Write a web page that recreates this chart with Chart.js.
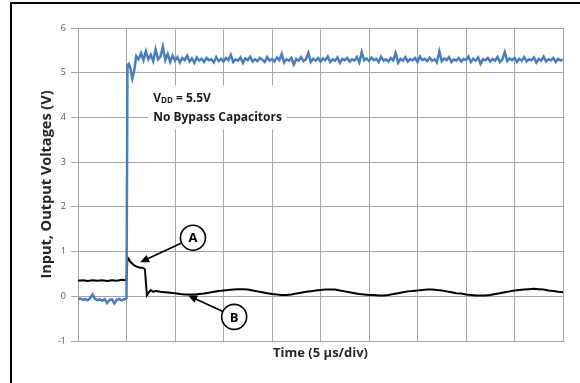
<!DOCTYPE html>
<html>
<head>
<meta charset="utf-8">
<script src="https://cdn.jsdelivr.net/npm/chart.js@4.4.1/dist/chart.umd.min.js"></script>
<style>
  html, body { margin: 0; padding: 0; background: #fff; }
  #wrap { width: 580px; height: 383px; }
</style>
</head>
<body>
<div id="wrap"><canvas id="scopeChart" width="580" height="383"></canvas></div>
<script>
// time axis in divisions (5 us/div)
const inputTime = [
    0, 0.05, 0.1, 0.15, 0.2, 0.25, 0.3, 0.35, 0.4, 0.45, 0.5, 0.55, 0.6, 0.65, 0.7, 0.75, 0.8, 0.85, 0.9, 0.95,
    0.98, 1.0, 1.02, 1.05, 1.08, 1.12, 1.16, 1.2,
    1.25, 1.3, 1.35, 1.4, 1.45, 1.5, 1.55, 1.6, 1.65, 1.7, 1.75, 1.8, 1.85, 1.9, 1.95,
    2.0, 2.05, 2.1, 2.15, 2.2, 2.25, 2.3, 2.35, 2.4, 2.45, 2.5, 2.55, 2.6, 2.65, 2.7, 2.75, 2.8, 2.85, 2.9, 2.95,
    3.0, 3.05, 3.1, 3.15, 3.2, 3.25, 3.3, 3.35, 3.4, 3.45, 3.5, 3.55, 3.6, 3.65, 3.7, 3.75, 3.8, 3.85, 3.9, 3.95,
    4.0, 4.05, 4.1, 4.15, 4.2, 4.25, 4.3, 4.35, 4.4, 4.45, 4.5, 4.55, 4.6, 4.65, 4.7, 4.75, 4.8, 4.85, 4.9, 4.95,
    5.0, 5.05, 5.1, 5.15, 5.2, 5.25, 5.3, 5.35, 5.4, 5.45, 5.5, 5.55, 5.6, 5.65, 5.7, 5.75, 5.8, 5.85, 5.9, 5.95,
    6.0, 6.05, 6.1, 6.15, 6.2, 6.25, 6.3, 6.35, 6.4, 6.45, 6.5, 6.55, 6.6, 6.65, 6.7, 6.75, 6.8, 6.85, 6.9, 6.95,
    7.0, 7.05, 7.1, 7.15, 7.2, 7.25, 7.3, 7.35, 7.4, 7.45, 7.5, 7.55, 7.6, 7.65, 7.7, 7.75, 7.8, 7.85, 7.9, 7.95,
    8.0, 8.05, 8.1, 8.15, 8.2, 8.25, 8.3, 8.35, 8.4, 8.45, 8.5, 8.55, 8.6, 8.65, 8.7, 8.75, 8.8, 8.85, 8.9, 8.95,
    9.0, 9.05, 9.1, 9.15, 9.2, 9.25, 9.3, 9.35, 9.4, 9.45, 9.5, 9.55, 9.6, 9.65, 9.7, 9.75, 9.8, 9.85, 9.9, 9.95,
    10.0
];

// input voltage (V)
const inputV = [
    -0.07, -0.05, -0.08, -0.06, -0.09, -0.04, 0.04, -0.06, -0.08, -0.07, -0.1, -0.06, -0.15, -0.08, -0.07, -0.16, -0.08, -0.06, -0.09, -0.07,
    -0.06, -0.04, 5.17, 5.2, 5.1, 4.87, 5.05, 5.37,
    5.3, 5.44, 5.28, 5.48, 5.3, 5.4, 5.26, 5.52, 5.3, 5.36, 5.58, 5.28, 5.42, 5.24, 5.38,
    5.27, 5.35, 5.23, 5.33, 5.28, 5.38, 5.25, 5.32, 5.22, 5.34, 5.27, 5.31, 5.24, 5.33, 5.28, 5.3, 5.23, 5.35, 5.26, 5.31,
    5.25, 5.33, 5.28, 5.4, 5.24, 5.3, 5.27, 5.34, 5.22, 5.32, 5.28, 5.36, 5.25, 5.3, 5.26, 5.33, 5.29, 5.24, 5.35, 5.27,
    5.31, 5.25, 5.34, 5.28, 5.42, 5.23, 5.3, 5.27, 5.33, 5.18, 5.31, 5.27, 5.35, 5.26, 5.3, 5.44, 5.24, 5.31, 5.27, 5.33,
    5.25, 5.32, 5.28, 5.36, 5.24, 5.3, 5.27, 5.34, 5.22, 5.31, 5.28, 5.33, 5.25, 5.3, 5.27, 5.35, 5.23, 5.46, 5.28, 5.32,
    5.26, 5.34, 5.28, 5.31, 5.24, 5.36, 5.27, 5.3, 5.25, 5.33, 5.28, 5.44, 5.22, 5.31, 5.27, 5.35, 5.25, 5.3, 5.28, 5.33,
    5.24, 5.36, 5.28, 5.31, 5.26, 5.34, 5.27, 5.3, 5.23, 5.48, 5.26, 5.32, 5.28, 5.35, 5.24, 5.3, 5.27, 5.33, 5.25, 5.31,
    5.28, 5.36, 5.24, 5.31, 5.27, 5.34, 5.2, 5.3, 5.28, 5.33, 5.25, 5.31, 5.27, 5.35, 5.24, 5.3, 5.46, 5.26, 5.32, 5.28,
    5.33, 5.24, 5.31, 5.27, 5.35, 5.25, 5.3, 5.28, 5.34, 5.23, 5.31, 5.27, 5.36, 5.25, 5.3, 5.28, 5.33, 5.24, 5.31, 5.27,
    5.3
];

const outputTime = [
    0, 0.1, 0.2, 0.3, 0.4, 0.5, 0.6, 0.7, 0.8, 0.9,
    0.98, 1.0, 1.02, 1.05, 1.08, 1.12, 1.16, 1.2, 1.25, 1.3, 1.35, 1.38, 1.42, 1.46, 1.5, 1.55, 1.6,
    1.7, 1.8, 1.9, 2.0, 2.1, 2.2, 2.3, 2.4, 2.5, 2.6, 2.7, 2.8, 2.9,
    3.0, 3.1, 3.2, 3.3, 3.4, 3.5, 3.6, 3.7, 3.8, 3.9,
    4.0, 4.1, 4.2, 4.3, 4.4, 4.5, 4.6, 4.7, 4.8, 4.9,
    5.0, 5.1, 5.2, 5.3, 5.4, 5.5, 5.6, 5.7, 5.8, 5.9,
    6.0, 6.1, 6.2, 6.3, 6.4, 6.5, 6.6, 6.7, 6.8, 6.9,
    7.0, 7.1, 7.2, 7.3, 7.4, 7.5, 7.6, 7.7, 7.8, 7.9,
    8.0, 8.1, 8.2, 8.3, 8.4, 8.5, 8.6, 8.7, 8.8, 8.9,
    9.0, 9.1, 9.2, 9.3, 9.4, 9.5, 9.6, 9.7, 9.8, 9.9, 10.0
];

// output voltage (V)
const outputV = [
    0.35, 0.36, 0.34, 0.36, 0.35, 0.36, 0.34, 0.36, 0.35, 0.37,
    0.36, 0.36, 0.87, 0.83, 0.77, 0.73, 0.69, 0.67, 0.65, 0.64, 0.63, 0.6, 0.02, 0.09, 0.14, 0.1, 0.12,
    0.1, 0.09, 0.08, 0.07, 0.05, 0.04, 0.04, 0.04, 0.05, 0.06, 0.08, 0.1, 0.12,
    0.13, 0.14, 0.15, 0.16, 0.16, 0.15, 0.13, 0.11, 0.09, 0.07,
    0.05, 0.04, 0.03, 0.03, 0.04, 0.06, 0.08, 0.1, 0.11, 0.13,
    0.14, 0.15, 0.15, 0.15, 0.13, 0.11, 0.09, 0.07, 0.05, 0.04,
    0.03, 0.03, 0.02, 0.02, 0.03, 0.05, 0.07, 0.09, 0.11, 0.12,
    0.13, 0.14, 0.15, 0.15, 0.14, 0.13, 0.11, 0.09, 0.07, 0.06,
    0.04, 0.03, 0.02, 0.02, 0.02, 0.03, 0.05, 0.07, 0.09, 0.11,
    0.13, 0.14, 0.15, 0.16, 0.17, 0.16, 0.15, 0.13, 0.12, 0.1, 0.09
];

const yTicks = [-1, 0, 1, 2, 3, 4, 5, 6];

// callouts: [label, circle x, circle y, arrow tip x, arrow tip y] in data units
const callouts = [
    ["A", 2.37, 1.31, 1.28, 0.76],
    ["B", 3.22, -0.46, 2.27, 0.02]
];

const gridColor = "#a6a6a6";

const framePlugin = {
    id: "frame",
    beforeDraw(chart) {
        const ctx = chart.ctx;
        ctx.save();
        ctx.fillStyle = "#fff";
        ctx.fillRect(0, 0, chart.width, chart.height);
        ctx.fillStyle = "#000";
        ctx.fillRect(10, 2, chart.width - 10, 2);
        ctx.fillRect(10, 2, 2, chart.height - 2);
        ctx.restore();
    }
};

const notesPlugin = {
    id: "notes",
    afterDatasetsDraw(chart) {
        const ctx = chart.ctx;
        const xs = chart.scales.x;
        const ys = chart.scales.y;
        ctx.save();

        // text block with white background
        const tx = xs.getPixelForValue(1.55);
        const ty1 = ys.getPixelForValue(4.43);
        const ty2 = ys.getPixelForValue(4.0);
        ctx.font = "bold 12px 'Open Sans'";
        const w2 = ctx.measureText("No Bypass Capacitors").width;
        ctx.fillStyle = "#fff";
        ctx.fillRect(tx - 5, ty1 - 13, w2 + 10, ty2 - ty1 + 25);

        ctx.fillStyle = "#1a1a1a";
        ctx.textBaseline = "middle";
        ctx.textAlign = "left";
        let x = tx;
        ctx.fillText("V", x, ty1);
        x += ctx.measureText("V").width;
        ctx.font = "bold 8px 'Open Sans'";
        ctx.fillText("DD", x, ty1 + 3);
        x += ctx.measureText("DD").width;
        ctx.font = "bold 12px 'Open Sans'";
        ctx.fillText(" = 5.5V", x, ty1);
        ctx.fillText("No Bypass Capacitors", tx, ty2);

        // circled letters with arrows
        callouts.forEach(([label, cx, cy, ax, ay]) => {
            const px = xs.getPixelForValue(cx);
            const py = ys.getPixelForValue(cy);
            const qx = xs.getPixelForValue(ax);
            const qy = ys.getPixelForValue(ay);
            const r = 12.5;
            const ang = Math.atan2(qy - py, qx - px);
            ctx.strokeStyle = "#000";
            ctx.fillStyle = "#000";
            ctx.lineWidth = 1.6;
            ctx.beginPath();
            ctx.moveTo(px + r * Math.cos(ang), py + r * Math.sin(ang));
            ctx.lineTo(qx - 6 * Math.cos(ang), qy - 6 * Math.sin(ang));
            ctx.stroke();
            // arrow head
            ctx.beginPath();
            ctx.moveTo(qx, qy);
            ctx.lineTo(qx - 9 * Math.cos(ang) + 4 * Math.sin(ang), qy - 9 * Math.sin(ang) - 4 * Math.cos(ang));
            ctx.lineTo(qx - 9 * Math.cos(ang) - 4 * Math.sin(ang), qy - 9 * Math.sin(ang) + 4 * Math.cos(ang));
            ctx.closePath();
            ctx.fill();
            // circle
            ctx.beginPath();
            ctx.arc(px, py, r, 0, Math.PI * 2);
            ctx.fillStyle = "#fff";
            ctx.fill();
            ctx.stroke();
            ctx.fillStyle = "#000";
            ctx.font = "bold 13px 'Open Sans'";
            ctx.textAlign = "center";
            ctx.fillText(label, px, py + 1);
        });
        ctx.restore();
    }
};

const ctx = document.getElementById("scopeChart").getContext("2d");

new Chart(ctx, {
    type: "line",
    data: {
        datasets: [
            {
                label: "Input",
                data: inputTime.map((t, i) => ({ x: t, y: inputV[i] })),
                borderColor: "#4a7ebb",
                borderWidth: 2.5,
                pointRadius: 0,
                tension: 0,
                fill: false,
            },
            {
                label: "Output",
                data: outputTime.map((t, i) => ({ x: t, y: outputV[i] })),
                borderColor: "#000000",
                borderWidth: 2,
                pointRadius: 0,
                tension: 0,
                fill: false,
            },
        ],
    },
    options: {
        responsive: false,
        animation: false,
        events: [],
        layout: {
            padding: { left: 38, top: 28, right: 17, bottom: 0 },
        },
        scales: {
            x: {
                type: "linear",
                min: 0,
                max: 10,
                ticks: { stepSize: 1, display: false },
                grid: { color: gridColor, drawTicks: false },
                border: { color: gridColor },
                title: {
                    display: true,
                    text: "Time (5 µs/div)",
                    color: "#262626",
                    font: { family: "'Open Sans'", size: 13, weight: "bold" },
                    padding: { top: 0, bottom: 22 },
                },
                afterFit(scale) {
                    scale.height = 42;
                },
            },
            y: {
                min: -1,
                max: 6,
                afterBuildTicks(scale) {
                    scale.ticks = yTicks.map((v) => ({ value: v }));
                },
                ticks: {
                    color: "#595959",
                    font: { family: "'Open Sans'", size: 9 },
                    padding: 5,
                },
                grid: { color: gridColor, tickLength: 7 },
                border: { color: gridColor },
                title: {
                    display: true,
                    text: "Input, Output Voltages (V)",
                    color: "#262626",
                    font: { family: "'Open Sans'", size: 14.5, weight: "bold" },
                    padding: { top: 0, bottom: 0 },
                },
                afterFit(scale) {
                    scale.width = 40;
                },
            },
        },
        plugins: {
            legend: { display: false },
            tooltip: { enabled: false },
            title: { display: false },
        },
    },
    plugins: [framePlugin, notesPlugin],
});
</script>
</body>
</html>
